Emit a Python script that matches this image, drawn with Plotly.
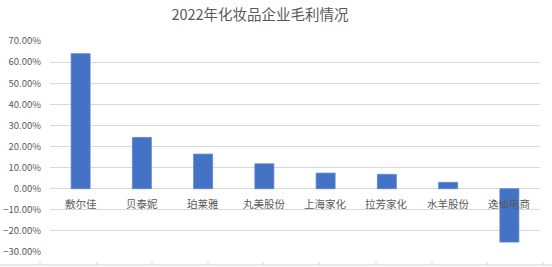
import plotly.graph_objects as go

categories = ["敷尔佳", "贝泰妮", "珀莱雅", "丸美股份", "上海家化", "拉芳家化", "水羊股份", "逸仙电商"]
margins = [0.640, 0.243, 0.164, 0.118, 0.074, 0.068, 0.030, -0.253]
y_ticks = [-0.3, -0.2, -0.1, 0.0, 0.1, 0.2, 0.3, 0.4, 0.5, 0.6, 0.7]
title = "2022年化妆品企业毛利情况"

font_family = "Noto Sans CJK SC, Noto Sans, sans-serif"

fig = go.Figure()
fig.add_trace(go.Bar(
    x=categories, y=margins,
    marker=dict(color="#4472C4", line=dict(color="#5B84CE", width=0.8)),
    hoverinfo="skip",
))

for c in categories:
    fig.add_annotation(x=c, y=0, xref="x", yref="y", text=c, showarrow=False,
                       yanchor="top", yshift=-5,
                       font=dict(family=font_family, size=10.5, color="#595959"))

# spreadsheet cell border peeking at bottom
shapes = [dict(type="line", xref="paper", yref="paper", x0=-50/490, x1=512/490,
               y0=-13/211, y1=-13/211, line=dict(color="#d4d4d4", width=1))]
for px in [40, 97, 152, 208, 263, 319, 376, 432, 487, 543]:
    xp = (px - 50) / 490
    shapes.append(dict(type="line", xref="paper", yref="paper", x0=xp, x1=xp,
                       y0=-13/211, y1=-10/211, line=dict(color="#d4d4d4", width=1)))

fig.update_layout(
    template="none",
    width=552, height=267,
    margin=dict(l=50, r=12, t=41, b=15, autoexpand=False),
    paper_bgcolor="white", plot_bgcolor="white",
    showlegend=False,
    bargap=0.69,
    title=dict(text=title, x=260/552, xref="container", xanchor="center",
               y=1 - 15/267, yref="container", yanchor="middle",
               font=dict(family=font_family, size=14.5, color="#595959")),
    xaxis=dict(showticklabels=False, showgrid=False, showline=False, ticks="",
               range=[-0.5, 7.5], fixedrange=True, automargin=False, zeroline=False),
    yaxis=dict(range=[-0.3, 0.7], tickvals=y_ticks, tickformat=".2%",
               showgrid=True, gridcolor="#d9d9d9", gridwidth=1,
               zeroline=True, zerolinecolor="#d9d9d9", zerolinewidth=1,
               showline=False, ticks="", ticklabelstandoff=8, automargin=False,
               tickfont=dict(family=font_family, size=9.5, color="#595959")),
    shapes=shapes,
)

fig.write_html("out.html")
